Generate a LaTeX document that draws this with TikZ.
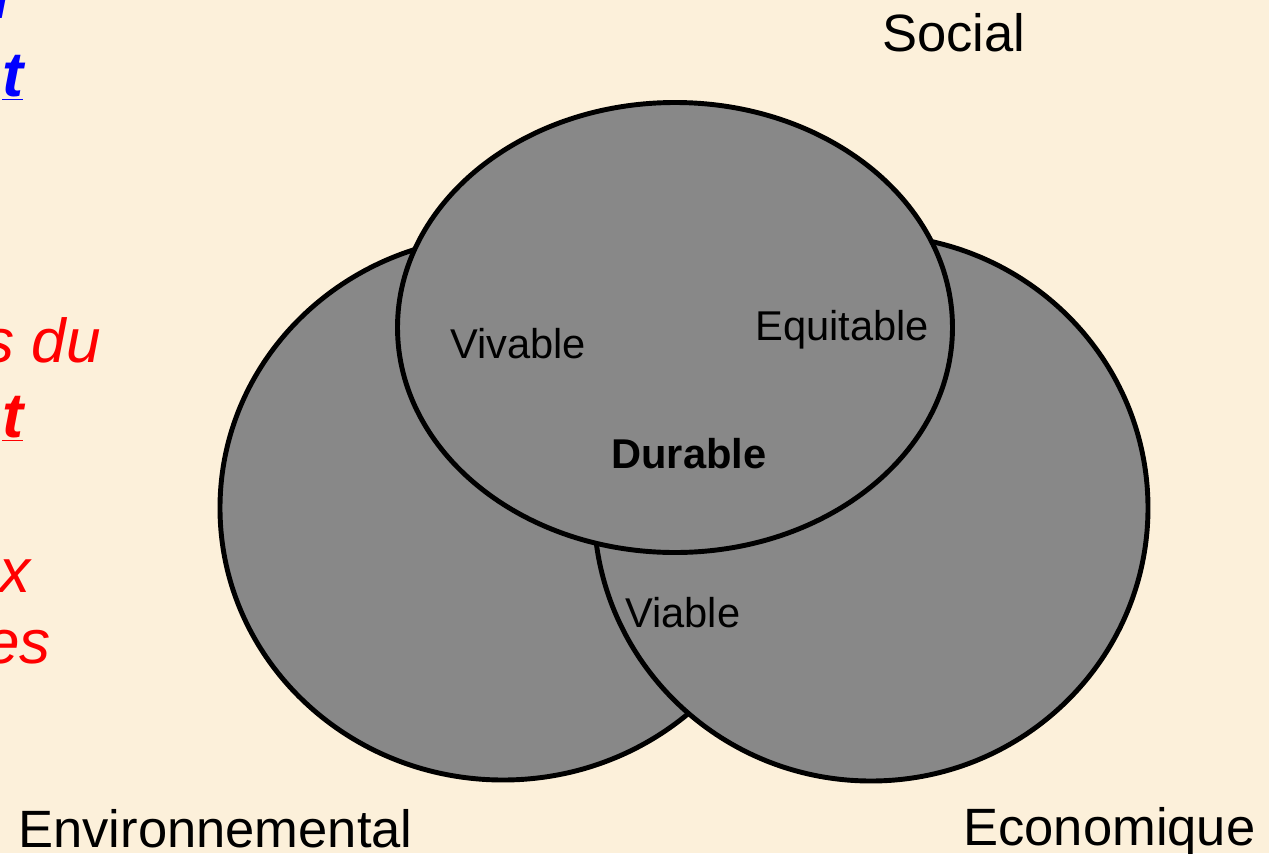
\documentclass[tikz,border=0pt]{standalone}
\usepackage{fontspec}
\setmainfont{Liberation Sans}
\definecolor{bgcol}{RGB}{252,240,218}
\definecolor{disc}{RGB}{136,136,136}
\definecolor{linkblue}{RGB}{0,0,255}
\definecolor{hired}{RGB}{255,0,0}
\begin{document}
\begin{tikzpicture}[x=0.02cm,y=-0.02cm,
  sphere/.style={fill=disc,draw=black,line width=2.8pt},
  biglabel/.style={inner sep=0pt,anchor=base west,font=\fontsize{29.9}{34}\selectfont},
  innerlabel/.style={inner sep=0pt,anchor=base west,font=\fontsize{23.7}{28}\selectfont},
  sidetext/.style={inner sep=0pt,anchor=base west,font=\fontsize{35.3}{40}\selectfont\itshape},
  sidebold/.style={sidetext,font=\fontsize{36}{40}\selectfont\bfseries\itshape}]
\fill[bgcol] (0,0) rectangle (1269,853);
\useasboundingbox (0,0) rectangle (1269,853);
% side text fragments
\node[sidebold,text=linkblue] (b1) at (-8,18) {l};
\node[sidebold,text=linkblue] (b2) at (2,96) {\underline{t}};
\node[sidetext,text=hired] (r1) at (-17,362) {s du};
\node[sidebold,text=hired] (r2) at (2,437) {\underline{t}};
\node[sidetext,text=hired] (r3) at (-1,592) {x};
\node[sidetext,text=hired] (r4) at (-15,663) {es};
% circles
\path[sphere] (503,508) ellipse [x radius=283, y radius=272];
\path[sphere] (871,508) ellipse [x radius=277, y radius=273];
\path[sphere] (675,327.5) ellipse [x radius=277.5, y radius=225];
% labels
\node[biglabel] (soc) at (882,51) {Social};
\node[biglabel] (env) at (18,847) {Environnemental};
\node[biglabel] (eco) at (963,845) {Economique};
\node[innerlabel] (viv) at (450,358) {Vivable};
\node[innerlabel] (equ) at (755,340) {Equitable};
\node[innerlabel,font=\fontsize{23.7}{28}\selectfont\bfseries] (dur) at (611,468) {Durable};
\node[innerlabel] (via) at (625,627) {Viable};
\end{tikzpicture}
\end{document}
